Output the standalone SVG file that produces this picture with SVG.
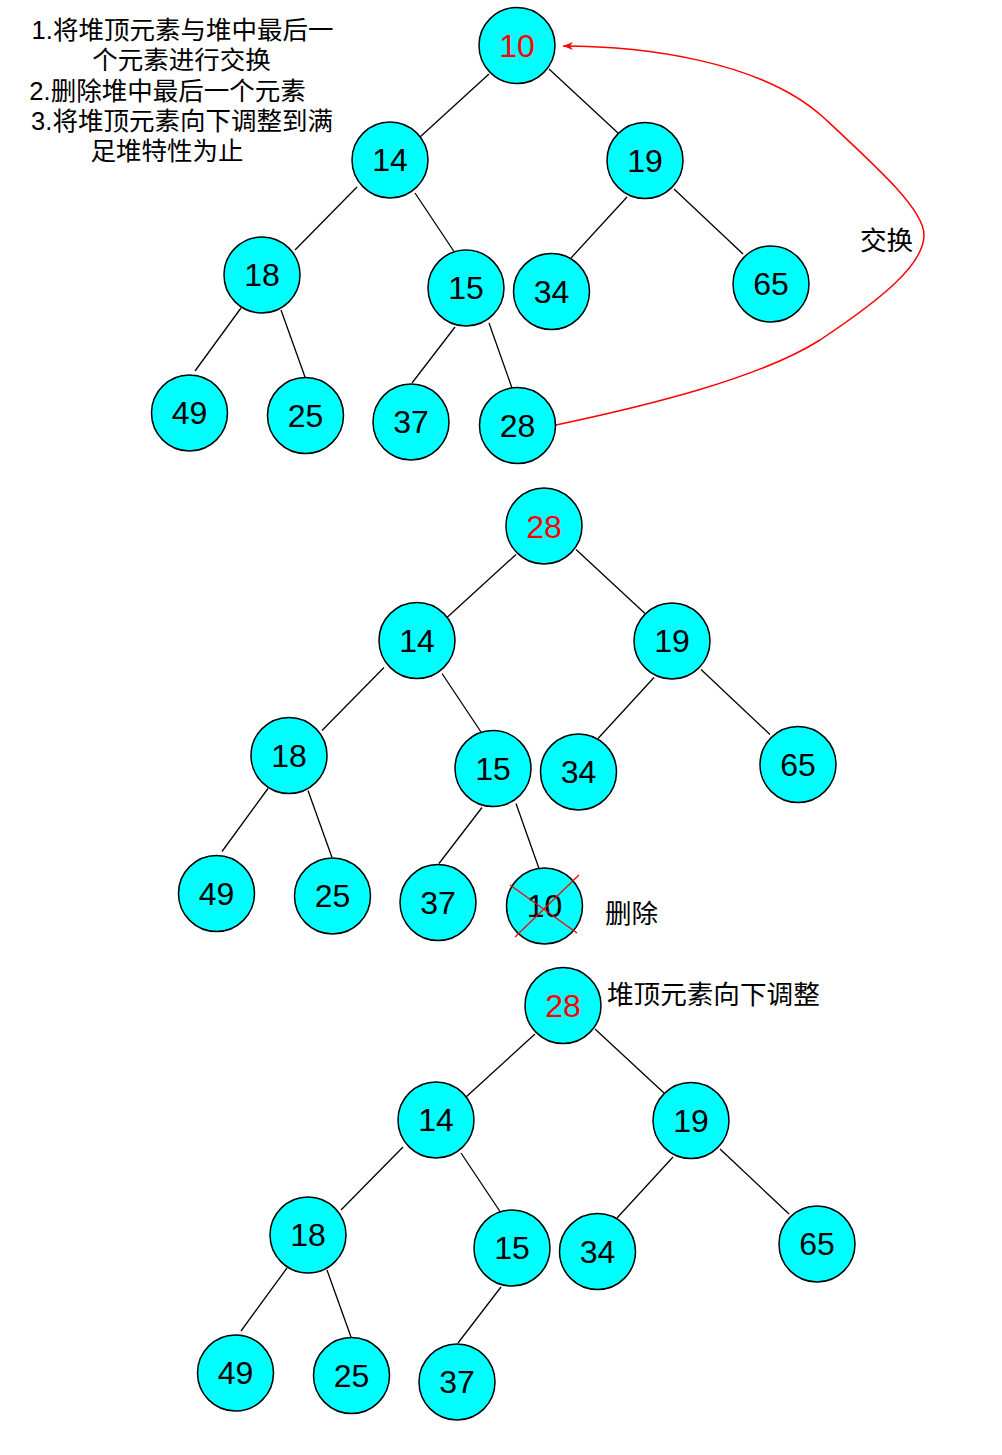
<svg xmlns="http://www.w3.org/2000/svg" width="1002" height="1455" viewBox="0 0 1002 1455">
<style>
.n circle{fill:#00FFFF;stroke:#000;stroke-width:1.5}
.n text{font-family:"Liberation Sans",Arial,sans-serif;font-size:32px;text-anchor:middle;fill:#000}
.n text.r{fill:#FF0000}
.e line{stroke:#000;stroke-width:1.3}
.cjk{font-family:"Liberation Sans","Noto Sans CJK SC",sans-serif;fill:#000}
.lbl{font-size:26.6px}
.note{font-size:25.5px;text-anchor:middle}
</style>
<defs>
<marker id="ah" markerUnits="userSpaceOnUse" viewBox="0 0 10 8" refX="10" refY="4" markerWidth="10" markerHeight="8" orient="auto">
<path d="M0,0 L10,4 L0,8 L3,4 Z" fill="#FF0000"/>
</marker>
</defs>
<rect width="1002" height="1455" fill="#fff"/>

<g id="note" class="cjk note">
<text x="182.5" y="39">1.将堆顶元素与堆中最后一</text>
<text x="181.5" y="69">个元素进行交换</text>
<text x="167.5" y="100">2.删除堆中最后一个元素</text>
<text x="182" y="130">3.将堆顶元素向下调整到满</text>
<text x="167" y="160">足堆特性为止</text>
</g>

<g id="connectors">
<g class="e">
<line x1="489" y1="74" x2="420" y2="137"/>
<line x1="549" y1="69" x2="618" y2="133"/>
<line x1="357" y1="187" x2="295" y2="250"/>
<line x1="415" y1="193" x2="455" y2="253"/>
<line x1="627" y1="197" x2="571" y2="258"/>
<line x1="674" y1="189" x2="743" y2="254"/>
<line x1="241" y1="308" x2="195" y2="371"/>
<line x1="281" y1="310" x2="305" y2="377"/>
<line x1="455" y1="327" x2="412" y2="383"/>
<line x1="489" y1="323" x2="512" y2="388"/>
</g>
<g class="e" transform="translate(27,480.5)">
<line x1="489" y1="74" x2="420" y2="137"/>
<line x1="549" y1="69" x2="618" y2="133"/>
<line x1="357" y1="187" x2="295" y2="250"/>
<line x1="415" y1="193" x2="455" y2="253"/>
<line x1="627" y1="197" x2="571" y2="258"/>
<line x1="674" y1="189" x2="743" y2="254"/>
<line x1="241" y1="308" x2="195" y2="371"/>
<line x1="281" y1="310" x2="305" y2="377"/>
<line x1="455" y1="327" x2="412" y2="383"/>
<line x1="489" y1="323" x2="512" y2="388"/>
</g>
<g class="e" transform="translate(46,960)">
<line x1="489" y1="74" x2="420" y2="137"/>
<line x1="549" y1="69" x2="618" y2="133"/>
<line x1="357" y1="187" x2="295" y2="250"/>
<line x1="415" y1="193" x2="455" y2="253"/>
<line x1="627" y1="197" x2="571" y2="258"/>
<line x1="674" y1="189" x2="743" y2="254"/>
<line x1="241" y1="308" x2="195" y2="371"/>
<line x1="281" y1="310" x2="305" y2="377"/>
<line x1="455" y1="327" x2="412" y2="383"/>
</g>
<path id="swap-arrow" d="M556,425 C650,405 760,378 820,340 C880,300 924,265 924,235 C924,210 880,170 823,117 C760,60 640,46 563,46" fill="none" stroke="#FF0000" stroke-width="1.5" marker-end="url(#ah)"/>
</g>

<g id="t1-10" class="n"><circle cx="517" cy="45.5" r="38"/><text class="r" x="517" y="57">10</text></g>
<g id="t1-14" class="n"><circle cx="390" cy="160" r="38"/><text x="390" y="171">14</text></g>
<g id="t1-19" class="n"><circle cx="645" cy="160.5" r="38"/><text x="645" y="171.5">19</text></g>
<g id="t1-18" class="n"><circle cx="262" cy="275" r="38"/><text x="262" y="286">18</text></g>
<g id="t1-15" class="n"><circle cx="466" cy="288" r="38"/><text x="466" y="299">15</text></g>
<g id="t1-34" class="n"><circle cx="551.5" cy="291.5" r="38"/><text x="551.5" y="302.5">34</text></g>
<g id="t1-65" class="n"><circle cx="771" cy="284" r="38"/><text x="771" y="295">65</text></g>
<g id="t1-49" class="n"><circle cx="189.5" cy="413" r="38"/><text x="189.5" y="424">49</text></g>
<g id="t1-25" class="n"><circle cx="305.5" cy="415.5" r="38"/><text x="305.5" y="426.5">25</text></g>
<g id="t1-37" class="n"><circle cx="411" cy="422" r="38"/><text x="411" y="433">37</text></g>
<g id="t1-28" class="n"><circle cx="517.5" cy="425.5" r="38"/><text x="517.5" y="436.5">28</text></g>
<text id="swap-label" class="cjk lbl" x="860" y="250">交换</text>

<g transform="translate(27,480.5)">
<g id="t2-28" class="n"><circle cx="517" cy="45.5" r="38"/><text class="r" x="517" y="57">28</text></g>
<g id="t2-14" class="n"><circle cx="390" cy="160" r="38"/><text x="390" y="171">14</text></g>
<g id="t2-19" class="n"><circle cx="645" cy="160.5" r="38"/><text x="645" y="171.5">19</text></g>
<g id="t2-18" class="n"><circle cx="262" cy="275" r="38"/><text x="262" y="286">18</text></g>
<g id="t2-15" class="n"><circle cx="466" cy="288" r="38"/><text x="466" y="299">15</text></g>
<g id="t2-34" class="n"><circle cx="551.5" cy="291.5" r="38"/><text x="551.5" y="302.5">34</text></g>
<g id="t2-65" class="n"><circle cx="771" cy="284" r="38"/><text x="771" y="295">65</text></g>
<g id="t2-49" class="n"><circle cx="189.5" cy="413" r="38"/><text x="189.5" y="424">49</text></g>
<g id="t2-25" class="n"><circle cx="305.5" cy="415.5" r="38"/><text x="305.5" y="426.5">25</text></g>
<g id="t2-37" class="n"><circle cx="411" cy="422" r="38"/><text x="411" y="433">37</text></g>
<g id="t2-10" class="n"><circle cx="517.5" cy="425.5" r="38"/><text x="517.5" y="436.5">10</text>
<line x1="483" y1="404.5" x2="550" y2="452.5" stroke="#FF0000" stroke-width="1.3"/>
<line x1="552" y1="394.5" x2="488" y2="456.5" stroke="#FF0000" stroke-width="1.3"/>
</g>
</g>
<text id="delete-label" class="cjk lbl" x="605" y="923">删除</text>

<g transform="translate(46,960)">
<g id="t3-28" class="n"><circle cx="517" cy="45.5" r="38"/><text class="r" x="517" y="57">28</text></g>
<g id="t3-14" class="n"><circle cx="390" cy="160" r="38"/><text x="390" y="171">14</text></g>
<g id="t3-19" class="n"><circle cx="645" cy="160.5" r="38"/><text x="645" y="171.5">19</text></g>
<g id="t3-18" class="n"><circle cx="262" cy="275" r="38"/><text x="262" y="286">18</text></g>
<g id="t3-15" class="n"><circle cx="466" cy="288" r="38"/><text x="466" y="299">15</text></g>
<g id="t3-34" class="n"><circle cx="551.5" cy="291.5" r="38"/><text x="551.5" y="302.5">34</text></g>
<g id="t3-65" class="n"><circle cx="771" cy="284" r="38"/><text x="771" y="295">65</text></g>
<g id="t3-49" class="n"><circle cx="189.5" cy="413" r="38"/><text x="189.5" y="424">49</text></g>
<g id="t3-25" class="n"><circle cx="305.5" cy="415.5" r="38"/><text x="305.5" y="426.5">25</text></g>
<g id="t3-37" class="n"><circle cx="411" cy="422" r="38"/><text x="411" y="433">37</text></g>
</g>
<text id="adjust-label" class="cjk lbl" x="607" y="1004">堆顶元素向下调整</text>
</svg>
